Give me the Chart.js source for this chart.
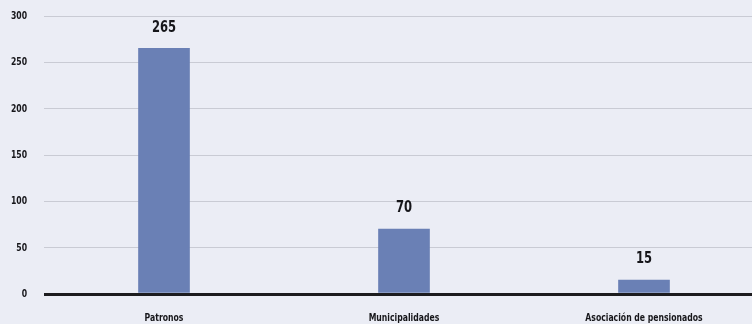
<!DOCTYPE html>
<html>
<head>
<meta charset="utf-8">
<script src="https://cdn.jsdelivr.net/npm/chart.js@4"></script>
<style>
  html, body { margin: 0; padding: 0; background: #ebedf5; overflow: hidden; }
  #wrap { width: 764px; height: 324px; }
</style>
</head>
<body>
<div id="wrap"><canvas id="chart"></canvas></div>
<script>
(function () {
  'use strict';

  const categories = ['Patronos', 'Municipalidades', 'Asociación de pensionados'];
  const values = [265, 70, 15];
  const yTicks = [0, 50, 100, 150, 200, 250, 300];

  const FONT = '"DejaVu Sans Condensed", "Liberation Sans Narrow", sans-serif';
  const SQUEEZE = 0.78; // narrow the glyphs horizontally

  function narrowText(ctx, text, x, y, align) {
    ctx.save();
    ctx.translate(x, y);
    ctx.scale(SQUEEZE, 1);
    ctx.textAlign = align;
    ctx.fillText(text, 0, 0);
    ctx.restore();
  }

  // axis labels and bar values, drawn condensed
  const condensedText = {
    id: 'condensedText',
    afterDatasetsDraw(chart) {
      const ctx = chart.ctx;
      const xs = chart.scales.x;
      const ys = chart.scales.y;
      const meta = chart.getDatasetMeta(0);
      ctx.save();
      ctx.fillStyle = '#16161a';
      ctx.textBaseline = 'middle';

      ctx.font = 'bold 11px ' + FONT;
      yTicks.forEach(v => narrowText(ctx, String(v), 27, ys.getPixelForValue(v), 'right'));

      ctx.font = 'bold 11px ' + FONT;
      categories.forEach((c, i) => narrowText(ctx, c, xs.getPixelForTick(i), 318, 'center'));

      ctx.font = 'bold 16.5px ' + FONT;
      meta.data.forEach((bar, i) => narrowText(ctx, String(values[i]), bar.x, bar.y - 21, 'center'));
      ctx.restore();
    },
  };

  new Chart(document.getElementById('chart'), {
    type: 'bar',
    data: {
      labels: categories,
      datasets: [{
        data: values,
        backgroundColor: '#6a80b5',
        barThickness: 51,
      }],
    },
    options: {
      responsive: true,
      maintainAspectRatio: false,
      animation: false,
      layout: { padding: { top: 16, right: 0, bottom: 0, left: 0 } },
      plugins: { legend: { display: false }, tooltip: { enabled: false } },
      scales: {
        x: {
          grid: { display: false },
          border: { display: false },
          ticks: { display: false },
          afterFit(scale) { scale.height = 30; },
        },
        y: {
          min: 0,
          max: 300,
          afterBuildTicks(scale) { scale.ticks = yTicks.map(v => ({ value: v })); },
          border: { display: false },
          grid: {
            drawTicks: false,
            color: c => (c.tick && c.tick.value === 0 ? '#1c1c1f' : '#c9cbd4'),
            lineWidth: c => (c.tick && c.tick.value === 0 ? 3 : 1),
          },
          ticks: { display: false },
          afterFit(scale) { scale.width = 44; },
        },
      },
    },
    plugins: [condensedText],
  });
})();
</script>
</body>
</html>
